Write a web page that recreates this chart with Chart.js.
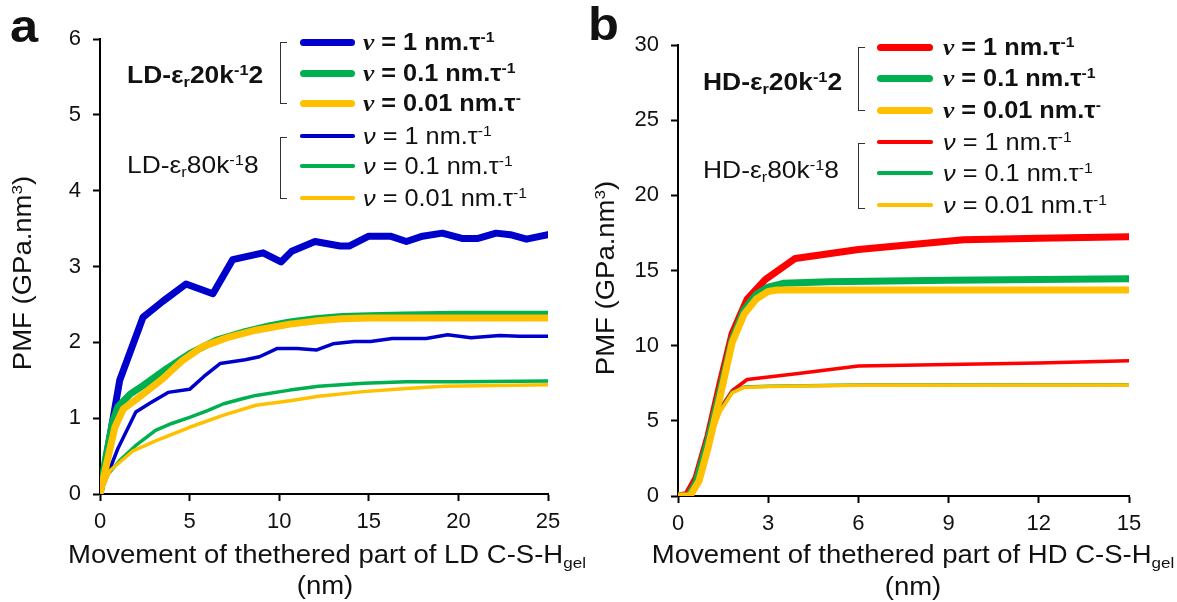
<!DOCTYPE html>
<html>
<head>
<meta charset="utf-8">
<script src="https://cdn.jsdelivr.net/npm/chart.js@4.4.1/dist/chart.umd.min.js"></script>
<style>
body { margin: 0; background: #fff; }
#wrap { position: relative; width: 1177px; height: 602px; overflow: hidden; background: #fff;
        font-family: "Liberation Sans", Arial, sans-serif; color: #111; }
.box { position: absolute; top: 0; height: 602px; }
.t { position: absolute; white-space: nowrap; line-height: 1; }
.t > span { display: inline-block; transform: scaleX(1.1); }
sup { font-size: 0.62em; position: relative; top: -0.55em; vertical-align: baseline; }
sub { font-size: 0.62em; position: relative; top: 0.3em; vertical-align: baseline; }
.brk { position: absolute; border: 1.5px solid #333; border-right: none; width: 6px; }
.sw { position: absolute; }
.nub { font-family: "Liberation Serif", serif; font-style: italic; font-weight: bold; }
.nu { font-style: italic; }
</style>
</head>
<body>
<div id="wrap">
  <div class="box" style="left:0;width:590px;"><canvas id="chartA"></canvas></div>
  <div class="box" style="left:590px;width:587px;"><canvas id="chartB"></canvas></div>
</div>
<script>
// ---- panel a : LD C-S-H ----
var ld20v1X   = [0, 1.1, 2.4, 3.5, 4.8, 6.3, 7.4, 9.1, 10.1, 10.7, 12, 13.4, 13.9, 15, 16.2, 17.1, 18, 19.1, 20.2, 21.1, 22.1, 22.9, 23.8, 25];
var ld20v1Y   = [0, 1.5, 2.33, 2.54, 2.77, 2.64, 3.09, 3.18, 3.06, 3.2, 3.33, 3.27, 3.27, 3.40, 3.40, 3.33, 3.40, 3.44, 3.37, 3.37, 3.44, 3.42, 3.36, 3.42];
var ld20v01X  = [0, 0.3, 0.7, 1.0, 1.7, 2.4, 3.7, 5.0, 6.5, 8.1, 9.5, 10.6, 12, 13.5, 15, 17, 20, 25];
var ld20v01Y  = [0, 0.45, 0.95, 1.15, 1.32, 1.43, 1.65, 1.85, 2.03, 2.14, 2.22, 2.27, 2.31, 2.34, 2.35, 2.36, 2.37, 2.37];
var ld20v001X = [0, 0.37, 0.83, 1.3, 2.2, 3.5, 4.6, 5.7, 7.2, 8.7, 10.6, 12, 13.5, 15, 25];
var ld20v001Y = [0, 0.40, 0.88, 1.12, 1.28, 1.52, 1.76, 1.94, 2.07, 2.16, 2.24, 2.28, 2.31, 2.32, 2.32];
var ld80v1X   = [0, 0.5, 1.0, 2.0, 2.8, 3.8, 5.0, 5.8, 6.7, 8.1, 8.9, 9.9, 11, 12.1, 13, 14.2, 15.1, 16.3, 18.2, 19.4, 20.7, 22.3, 23.4, 25];
var ld80v1Y   = [0, 0.3, 0.6, 1.08, 1.2, 1.34, 1.38, 1.55, 1.72, 1.77, 1.81, 1.92, 1.92, 1.90, 1.98, 2.01, 2.01, 2.05, 2.05, 2.10, 2.06, 2.09, 2.08, 2.08];
var ld80v01X  = [0, 0.4, 1.1, 2.0, 3.1, 4.0, 5.0, 6.0, 6.9, 8.0, 8.7, 10.6, 12.2, 14.7, 17.1, 20, 25];
var ld80v01Y  = [0, 0.25, 0.44, 0.64, 0.84, 0.93, 1.01, 1.10, 1.19, 1.26, 1.30, 1.37, 1.42, 1.46, 1.48, 1.48, 1.49];
var ld80v001X = [0, 0.56, 1.85, 3.1, 5.0, 6.9, 8.7, 10.6, 12.2, 14.7, 17.1, 19.2, 25];
var ld80v001Y = [0, 0.31, 0.57, 0.70, 0.88, 1.04, 1.17, 1.23, 1.29, 1.35, 1.39, 1.42, 1.44];

// ---- panel b : HD C-S-H ----
var hd20v1X   = [0, 0.3, 0.6, 1.0, 1.4, 1.8, 2.3, 2.9, 3.9, 6.0, 9.5, 12, 15];
var hd20v1Y   = [0, 0.1, 1.2, 4.0, 7.5, 10.8, 13.1, 14.4, 15.8, 16.4, 17.05, 17.15, 17.25];
var hd20v01X  = [0, 0.35, 0.6, 1.0, 1.4, 1.8, 2.2, 2.6, 3.0, 3.5, 5, 9, 15];
var hd20v01Y  = [0, 0, 0.9, 3.7, 7.0, 10.4, 12.4, 13.4, 13.9, 14.15, 14.25, 14.35, 14.45];
var hd20v001X = [0, 0.4, 0.7, 1.0, 1.4, 1.8, 2.2, 2.6, 3.0, 3.3, 6, 15];
var hd20v001Y = [0, 0, 1.0, 3.2, 6.6, 10.2, 12.1, 13.1, 13.6, 13.7, 13.7, 13.7];
var hd80v1X   = [0, 0.3, 0.6, 1.0, 1.4, 1.8, 2.3, 4, 6, 9, 12, 15];
var hd80v1Y   = [0, 0.1, 1.3, 3.6, 5.8, 7.0, 7.75, 8.15, 8.65, 8.75, 8.85, 9.0];
var hd80v01X  = [0, 0.3, 0.6, 1.0, 1.4, 1.8, 2.2, 3, 6, 15];
var hd80v01Y  = [0, 0.1, 1.3, 3.6, 5.7, 6.9, 7.25, 7.3, 7.38, 7.4];
var hd80v001X = [0, 0.3, 0.6, 1.0, 1.4, 1.8, 2.2, 3, 6, 15];
var hd80v001Y = [0, 0.05, 1.2, 3.5, 5.6, 6.85, 7.22, 7.28, 7.36, 7.38];

var speeds = ['1', '0.1', '0.01'];
var xTicksA = [0, 5, 10, 15, 20, 25];
var yTicksA = [0, 1, 2, 3, 4, 5, 6];
var xTicksB = [0, 3, 6, 9, 12, 15];
var yTicksB = [0, 5, 10, 15, 20, 25, 30];

var BLUE = '#0000CC', GREEN = '#00B050', YELLOW = '#FFC000', RED = '#FF0000';
var THICK = 7, THIN = 3.5;

function pts(xs, ys) {
  return xs.map(function (x, i) { return { x: x, y: ys[i] }; });
}
function series(label, xs, ys, color, width, order) {
  return {
    label: label, data: pts(xs, ys), borderColor: color, backgroundColor: color,
    borderWidth: width, pointRadius: 0, tension: 0, fill: false, order: order,
    borderCapStyle: 'round', borderJoinStyle: 'round'
  };
}
function axes(xt, yt, yWidth, xHeight) {
  var font = { family: 'Liberation Sans', size: 22 };
  var grid = { drawOnChartArea: false, drawTicks: true, tickLength: 7, tickWidth: 2, tickColor: '#000' };
  var border = { color: '#000', width: 2 };
  return {
    x: { type: 'linear', min: xt[0], max: xt[xt.length - 1],
         ticks: { stepSize: xt[1] - xt[0], color: '#111', font: font, padding: 8, maxRotation: 0 },
         grid: grid, border: border, afterFit: function (s) { s.height = xHeight; } },
    y: { type: 'linear', min: yt[0], max: yt[yt.length - 1],
         ticks: { stepSize: yt[1] - yt[0], color: '#111', font: font, padding: 12 },
         grid: grid, border: border, afterFit: function (s) { s.width = yWidth; } }
  };
}
function makeChart(id, datasets, xt, yt, pad, yWidth, xHeight) {
  return new Chart(document.getElementById(id), {
    type: 'line',
    data: { datasets: datasets },
    options: {
      responsive: true, maintainAspectRatio: false, animation: false,
      layout: { padding: pad },
      plugins: { legend: { display: false }, tooltip: { enabled: false } },
      scales: axes(xt, yt, yWidth, xHeight)
    }
  });
}

makeChart('chartA', [
  series('LD 20k v=0.01', ld20v001X, ld20v001Y, YELLOW, THICK, 1),
  series('LD 20k v=0.1',  ld20v01X,  ld20v01Y,  GREEN,  THICK, 2),
  series('LD 20k v=1',    ld20v1X,   ld20v1Y,   BLUE,   THICK, 3),
  series('LD 80k v=0.01', ld80v001X, ld80v001Y, YELLOW, THIN, 4),
  series('LD 80k v=0.1',  ld80v01X,  ld80v01Y,  GREEN,  THIN, 5),
  series('LD 80k v=1',    ld80v1X,   ld80v1Y,   BLUE,   THIN, 6)
], xTicksA, yTicksA, { left: 0, top: 39, right: 42, bottom: 0 }, 100, 108);

makeChart('chartB', [
  series('HD 20k v=0.01', hd20v001X, hd20v001Y, YELLOW, THICK, 1),
  series('HD 20k v=0.1',  hd20v01X,  hd20v01Y,  GREEN,  THICK, 2),
  series('HD 20k v=1',    hd20v1X,   hd20v1Y,   RED,    THICK, 3),
  series('HD 80k v=0.01', hd80v001X, hd80v001Y, YELLOW, THIN, 4),
  series('HD 80k v=0.1',  hd80v01X,  hd80v01Y,  GREEN,  THIN, 5),
  series('HD 80k v=1',    hd80v1X,   hd80v1Y,   RED,    THIN, 6)
], xTicksB, yTicksB, { left: 0, top: 45, right: 48, bottom: 0 }, 88, 106);

// ---- overlay text, legend, brackets ----
var wrap = document.getElementById('wrap');
function text(html, x, y, css, center, rotate) {
  var d = document.createElement('div');
  d.className = 't';
  d.style.left = x + 'px';
  d.style.top = y + 'px';
  d.style.cssText += css;
  d.style.transform = (center ? 'translate(-50%,-50%)' : 'translate(0,-50%)') + (rotate ? ' rotate(-90deg)' : '');
  d.innerHTML = '<span style="transform-origin:' + (center ? 'center' : 'left') + ' center">' + html + '</span>';
  wrap.appendChild(d);
}
function bracket(x, y1, y2) {
  var d = document.createElement('div');
  d.className = 'brk';
  d.style.left = x + 'px'; d.style.top = y1 + 'px'; d.style.height = (y2 - y1) + 'px';
  wrap.appendChild(d);
}
function swatch(x1, x2, y, h, color) {
  var d = document.createElement('div');
  d.className = 'sw';
  d.style.left = x1 + 'px'; d.style.width = (x2 - x1) + 'px';
  d.style.top = (y - h / 2) + 'px'; d.style.height = h + 'px';
  d.style.background = color; d.style.borderRadius = (h / 2) + 'px';
  wrap.appendChild(d);
}
function legend(colors, xLine1, xLine2, xText, rows, xBr, brs, group, gx, gy) {
  for (var i = 0; i < 6; i++) {
    var bold = i < 3;
    var sp = speeds[i % 3];
    var sup = (bold && i === 2) ? '-' : '-1';
    swatch(xLine1, xLine2, rows[i], bold ? THICK : THIN, colors[i % 3]);
    var nu = bold ? '<span class="nub">ν</span>' : '<span class="nu">ν</span>';
    text(nu + ' = ' + sp + ' nm.τ<sup>' + sup + '</sup>', xText, rows[i],
         'font-size:23px;' + (bold ? 'font-weight:bold;' : ''), false);
  }
  bracket(xBr, brs[0], brs[1]);
  bracket(xBr, brs[2], brs[3]);
  text(group + '-ε<sub>r</sub>20k<sup>-1</sup>2', gx, gy[0], 'font-size:24px;font-weight:bold;', false);
  text(group + '-ε<sub>r</sub>80k<sup>-1</sup>8', gx, gy[1], 'font-size:24px;', false);
}

legend([BLUE, GREEN, YELLOW], 300, 355, 363, [42, 73, 103, 136, 166, 198], 280, [42, 102, 137, 197], 'LD', 127, [75, 165]);
legend([RED, GREEN, YELLOW], 877, 933, 943, [47, 78, 110, 142, 173, 205], 858, [47, 109, 143, 207], 'HD', 703, [82, 170]);

// panel letters
text('a', 10, 26, 'font-size:46px;font-weight:bold;', false);
text('b', 588, 24, 'font-size:46px;font-weight:bold;', false);

// axis titles
text('PMF (GPa.nm<sup>3</sup>)', 22, 273, 'font-size:25px;', true, true);
text('PMF (GPa.nm<sup>3</sup>)', 605, 278, 'font-size:25px;', true, true);
text('Movement of thethered part of LD C-S-H<sub>gel</sub>', 327, 554, 'font-size:25px;', true);
text('(nm)', 325, 585, 'font-size:25px;', true);
text('Movement of thethered part of HD C-S-H<sub>gel</sub>', 913, 554, 'font-size:25px;', true);
text('(nm)', 913, 586, 'font-size:25px;', true);
</script>
</body>
</html>
